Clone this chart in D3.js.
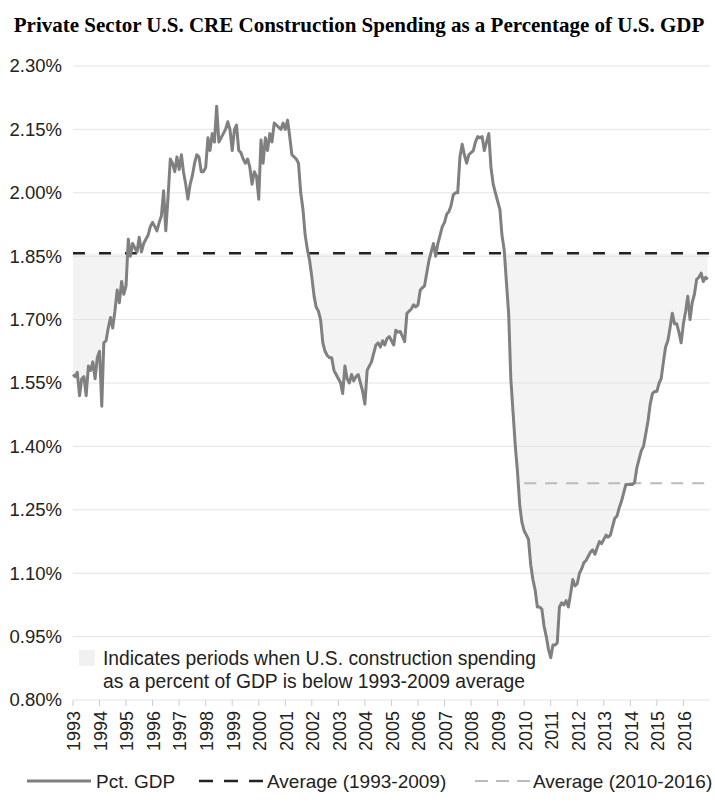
<!DOCTYPE html>
<html>
<head>
<meta charset="utf-8">
<script src="https://cdn.jsdelivr.net/npm/d3@7"></script>
<style>
  body { margin: 0; background: #fff; }
  svg text { font-family: "Liberation Sans", Arial, sans-serif; fill: #222; }
  .title { font-family: "Liberation Serif", "Times New Roman", serif; font-weight: bold; fill: #000; }
</style>
</head>
<body>
<div id="chart"></div>
<script>
// ---- data (monthly values in % of GDP) ----
const startYear = 1993;

const pct1993to1998 = [
  1.57, 1.565, 1.575, 1.52, 1.56, 1.565, 1.52, 1.59, 1.58, 1.60, 1.56, 1.61,
  1.625, 1.495, 1.645, 1.65, 1.68, 1.705, 1.68, 1.72, 1.77, 1.74, 1.79, 1.76,
  1.78, 1.89, 1.85, 1.88, 1.87, 1.86, 1.895, 1.86, 1.88, 1.89, 1.90, 1.92,
  1.93, 1.92, 1.91, 1.93, 1.945, 2.005, 1.91, 1.99, 2.08, 2.07, 2.05, 2.085,
  2.055, 2.09, 2.05, 2.02, 1.985, 2.02, 2.04, 2.07, 2.09, 2.085, 2.05, 2.05,
  2.06, 2.13, 2.10, 2.14, 2.12, 2.205, 2.12, 2.13, 2.14, 2.15, 2.168, 2.15
];
const pct1999to2004 = [
  2.10, 2.15, 2.16, 2.10, 2.095, 2.08, 2.07, 2.08, 2.06, 2.02, 2.05, 2.04,
  1.985, 2.125, 2.07, 2.13, 2.10, 2.14, 2.12, 2.165, 2.16, 2.155, 2.15, 2.165,
  2.15, 2.172, 2.135, 2.09, 2.085, 2.08, 2.07, 2.00, 1.96, 1.90, 1.865, 1.84,
  1.80, 1.755, 1.73, 1.72, 1.70, 1.645, 1.625, 1.615, 1.61, 1.61, 1.58, 1.57,
  1.56, 1.55, 1.525, 1.59, 1.56, 1.55, 1.57, 1.555, 1.565, 1.57, 1.55, 1.53,
  1.50, 1.58, 1.59, 1.60, 1.62, 1.64, 1.645, 1.635, 1.65, 1.64, 1.655, 1.66
];
const pct2005to2010 = [
  1.65, 1.64, 1.675, 1.67, 1.672, 1.66, 1.648, 1.715, 1.72, 1.725, 1.735, 1.73,
  1.735, 1.77, 1.775, 1.78, 1.81, 1.84, 1.86, 1.88, 1.85, 1.88, 1.90, 1.92,
  1.93, 1.95, 1.955, 1.97, 1.995, 2.00, 2.00, 2.085, 2.115, 2.09, 2.07, 2.09,
  2.095, 2.10, 2.12, 2.133, 2.13, 2.133, 2.10, 2.12, 2.14, 2.06, 2.02, 2.00,
  1.98, 1.96, 1.90, 1.865, 1.79, 1.715, 1.56, 1.48, 1.40, 1.34, 1.26, 1.22,
  1.20, 1.19, 1.18, 1.12, 1.085, 1.06, 1.02, 1.02, 1.015, 0.975, 0.95, 0.92
];
const pct2011to2016 = [
  0.90, 0.93, 0.93, 0.935, 1.02, 1.03, 1.025, 1.035, 1.02, 1.05, 1.085, 1.07,
  1.075, 1.10, 1.11, 1.125, 1.13, 1.14, 1.15, 1.155, 1.145, 1.16, 1.175, 1.17,
  1.18, 1.19, 1.185, 1.19, 1.21, 1.23, 1.235, 1.255, 1.27, 1.29, 1.31, 1.31,
  1.31, 1.31, 1.315, 1.35, 1.37, 1.39, 1.40, 1.43, 1.46, 1.50, 1.525, 1.53,
  1.53, 1.55, 1.56, 1.60, 1.635, 1.65, 1.68, 1.715, 1.69, 1.69, 1.67, 1.645,
  1.69, 1.72, 1.755, 1.70, 1.74, 1.76, 1.795, 1.80, 1.81, 1.79, 1.80, 1.795
];

const avg1993to2009 = 1.857;
const avg2010to2016 = 1.313;

const yTicks = [0.80, 0.95, 1.10, 1.25, 1.40, 1.55, 1.70, 1.85, 2.00, 2.15, 2.30];
const xTickYears = d3.range(1993, 2017);

const titleText = "Private Sector U.S. CRE Construction Spending as a Percentage of U.S. GDP";
const noteLines = [
  "Indicates periods when U.S. construction spending",
  "as a percent of GDP is below 1993-2009 average"
];

// ---- build series ----
const allPct = pct1993to1998.concat(pct1999to2004, pct2005to2010, pct2011to2016);
const series = allPct.map((v, i) => ({
  date: new Date(startYear + Math.floor(i / 12), i % 12, 1),
  v: v
}));

// ---- layout ----
const W = 715, H = 810;
const plotLeft = 73, plotRight = 710, plotTop = 66, plotBottom = 700;

const svg = d3.select("#chart").append("svg")
  .attr("width", W)
  .attr("height", H);

const x = d3.scaleTime()
  .domain([new Date(1993, 0, 1), new Date(2017, 0, 1)])
  .range([plotLeft, plotRight]);

const y = d3.scaleLinear()
  .domain([0.80, 2.30])
  .range([plotBottom, plotTop]);

// Title
svg.append("text")
  .attr("class", "title")
  .attr("x", 359)
  .attr("y", 32)
  .attr("text-anchor", "middle")
  .attr("font-size", "21px")
  .text(titleText);

// Shaded area below the 1993-2009 average
const area = d3.area()
  .x(d => x(d.date))
  .y0(y(avg1993to2009))
  .y1(d => y(Math.min(d.v, avg1993to2009)));

svg.append("path")
  .datum(series)
  .attr("d", area)
  .attr("fill", "#f3f3f3");

// Gridlines
svg.append("g")
  .selectAll("line")
  .data(yTicks)
  .join("line")
  .attr("x1", plotLeft)
  .attr("x2", plotRight)
  .attr("y1", d => y(d))
  .attr("y2", d => y(d))
  .attr("stroke", "#e3e3e3")
  .attr("stroke-width", 1);

// Y labels
svg.append("g")
  .selectAll("text")
  .data(yTicks)
  .join("text")
  .attr("x", 62)
  .attr("y", d => y(d))
  .attr("dy", "0.35em")
  .attr("text-anchor", "end")
  .attr("font-size", "18.5px")
  .attr("fill", "#333")
  .text(d => d.toFixed(2) + "%");

// X ticks and labels
const xg = svg.append("g");
xg.selectAll("line")
  .data(xTickYears)
  .join("line")
  .attr("x1", d => x(new Date(d, 0, 1)))
  .attr("x2", d => x(new Date(d, 0, 1)))
  .attr("y1", plotBottom)
  .attr("y2", plotBottom + 6)
  .attr("stroke", "#ccc");

xg.selectAll("text")
  .data(xTickYears)
  .join("text")
  .attr("transform", d => `translate(${x(new Date(d, 0, 1)) + 1},${plotBottom + 11}) rotate(-90)`)
  .attr("text-anchor", "end")
  .attr("dy", "0.35em")
  .attr("font-size", "18px")
  .attr("fill", "#333")
  .text(d => d);

// Average lines
svg.append("line")
  .attr("x1", plotLeft)
  .attr("x2", plotRight)
  .attr("y1", y(avg1993to2009))
  .attr("y2", y(avg1993to2009))
  .attr("stroke", "#222")
  .attr("stroke-width", 2.5)
  .attr("stroke-dasharray", "12,14");

svg.append("line")
  .attr("x1", x(new Date(2010, 0, 1)))
  .attr("x2", plotRight)
  .attr("y1", y(avg2010to2016))
  .attr("y2", y(avg2010to2016))
  .attr("stroke", "#bbb")
  .attr("stroke-width", 2)
  .attr("stroke-dasharray", "12,9");

// Pct. GDP line
const line = d3.line()
  .x(d => x(d.date))
  .y(d => y(d.v));

svg.append("path")
  .datum(series)
  .attr("d", line)
  .attr("fill", "none")
  .attr("stroke", "#808080")
  .attr("stroke-width", 3)
  .attr("stroke-linejoin", "round");

// Inset note
svg.append("rect")
  .attr("x", 79)
  .attr("y", 650)
  .attr("width", 16)
  .attr("height", 16)
  .attr("fill", "#f1f1f1");

svg.append("g")
  .selectAll("text")
  .data(noteLines)
  .join("text")
  .attr("x", 103)
  .attr("y", (d, i) => 665 + i * 23)
  .attr("font-size", "19.3px")
  .attr("fill", "#222")
  .text(d => d);

// Bottom legend
const legendY = 781;
const legend = svg.append("g");

legend.append("line")
  .attr("x1", 27).attr("x2", 91)
  .attr("y1", legendY).attr("y2", legendY)
  .attr("stroke", "#808080").attr("stroke-width", 3);
legend.append("text")
  .attr("x", 96).attr("y", legendY).attr("dy", "0.35em")
  .attr("font-size", "19px")
  .text("Pct. GDP");

legend.append("line")
  .attr("x1", 199).attr("x2", 263)
  .attr("y1", legendY).attr("y2", legendY)
  .attr("stroke", "#222").attr("stroke-width", 2.5)
  .attr("stroke-dasharray", "14,11");
legend.append("text")
  .attr("x", 267).attr("y", legendY).attr("dy", "0.35em")
  .attr("font-size", "19px")
  .text("Average (1993-2009)");

legend.append("line")
  .attr("x1", 475).attr("x2", 530)
  .attr("y1", legendY).attr("y2", legendY)
  .attr("stroke", "#bbb").attr("stroke-width", 2)
  .attr("stroke-dasharray", "13,8");
legend.append("text")
  .attr("x", 533).attr("y", legendY).attr("dy", "0.35em")
  .attr("font-size", "19px")
  .text("Average (2010-2016)");
</script>
</body>
</html>
